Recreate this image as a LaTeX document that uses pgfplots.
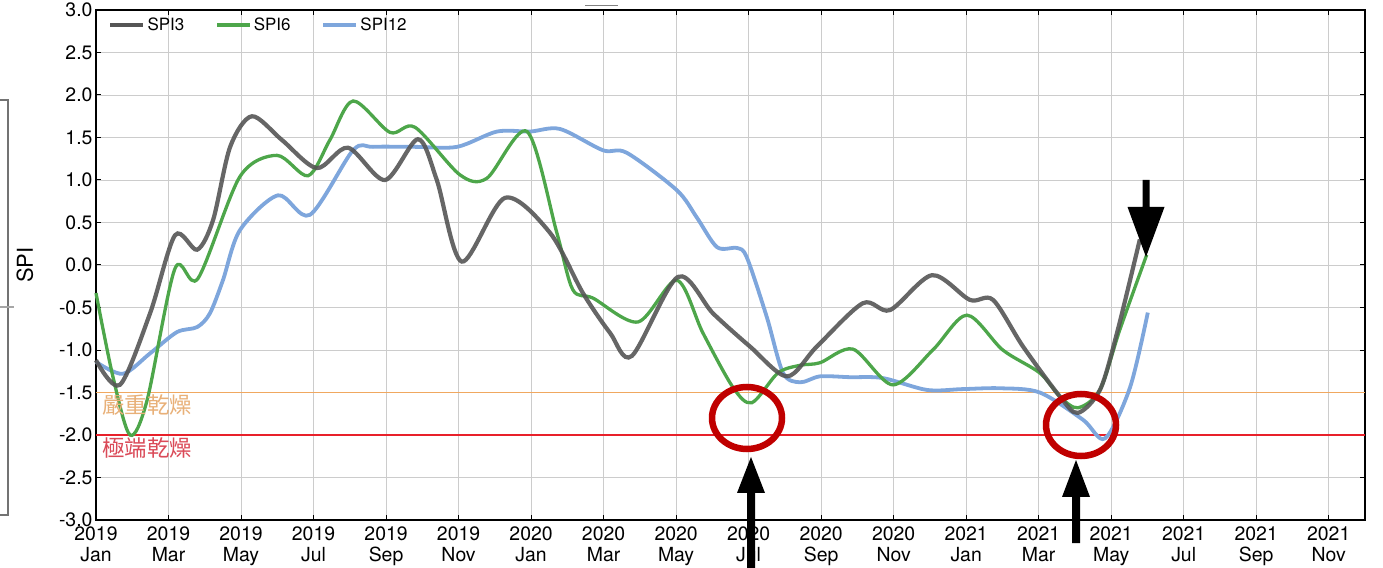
\documentclass[border=0pt]{standalone}
\usepackage{fontspec}
\setmainfont{TeX Gyre Heros}
\newfontfamily\cjk{Noto Sans CJK TC}
\usepackage{pgfplots}
\pgfplotsset{compat=1.18}
\definecolor{cthree}{HTML}{555555}
\definecolor{csix}{HTML}{4DA64A}
\definecolor{ctwelve}{HTML}{7EA6DC}
\definecolor{corange}{HTML}{F0A860}
\definecolor{cred}{HTML}{E8202A}
\definecolor{torange}{HTML}{E8B078}
\definecolor{tred}{HTML}{DA4A58}
\definecolor{circ}{HTML}{C00000}
\begin{document}
\begin{tikzpicture}
\path[use as bounding box] (-96bp,-48bp) rectangle (1287bp,520bp);
% artefacts of neighbouring figure
\draw[black!55, line width=1.5bp] (-96bp,420bp) -- (-88bp,420bp) -- (-88bp,5bp) -- (-96bp,5bp);
\draw[black!35, line width=1.2bp] (-96bp,213bp) -- (-82bp,213bp);
\draw[black!50, line width=0.8bp] (489bp,515bp) -- (522bp,515bp);
\begin{axis}[
  at={(0bp,0bp)}, anchor=south west,
  width=1269bp, height=510bp, scale only axis,
  xmin=0, xmax=35, ymin=-3, ymax=3,
  xtick={0,2,...,34},
  xticklabels={2019\\Jan,2019\\Mar,2019\\May,2019\\Jul,2019\\Sep,2019\\Nov,
               2020\\Jan,2020\\Mar,2020\\May,2020\\Jul,2020\\Sep,2020\\Nov,
               2021\\Jan,2021\\Mar,2021\\May,2021\\Jul,2021\\Sep,2021\\Nov},
  xticklabel style={align=center, font=\fontsize{19.5}{21.5}\selectfont, yshift=-3bp},
  ytick={-3,-2.5,-2,-1.5,-1,-0.5,0,0.5,1,1.5,2,2.5,3},
  yticklabel={\pgfmathprintnumber[fixed,fixed zerofill,precision=1,assume math mode=true]{\tick}},
  yticklabel style={font=\fontsize{19.5}{21.5}\selectfont},
  tick align=inside,
  major tick length=5bp,
  grid=major,
  grid style={color=black!20, line width=0.9bp},
  axis line style={line width=1.6bp},
  tick style={black, line width=1bp},
  ylabel={SPI},
  ylabel style={at={(axis description cs:-0.056,0.5)}, anchor=center, font=\fontsize{22}{26}\selectfont},
  legend style={at={(axis description cs:0.007,0.993)}, anchor=north west, draw=none, fill=none,
    font=\fontsize{17}{19}\selectfont, legend columns=3,
    /tikz/every even column/.append style={column sep=29bp}},
  legend image code/.code={\draw[#1] (0bp,0bp) -- (33bp,0bp);},
  clip=false,
]
\addlegendimage{cthree, line width=4.5bp}
\addlegendentry{SPI3}
\addlegendimage{csix, line width=3.5bp}
\addlegendentry{SPI6}
\addlegendimage{ctwelve, line width=4bp}
\addlegendentry{SPI12}

\addplot[corange, line width=1.1bp, forget plot] coordinates {(0,-1.5) (35,-1.5)};
\addplot[cred, line width=1.1bp, forget plot] coordinates {(0,-2) (35,-2)};

% SPI12
\addplot[ctwelve, line width=3.8bp, smooth, forget plot] coordinates {
(0,-1.14) (0.74,-1.28) (1.49,-1.04) (2.23,-0.79) (2.79,-0.73) (3.14,-0.57) (3.5,-0.18)
(3.97,0.41) (5.02,0.82) (5.9,0.59) (7.09,1.35) (7.64,1.39) (8.8,1.39) (9.96,1.39)
(11.06,1.57) (11.97,1.57) (12.8,1.6) (13.98,1.35) (14.64,1.32) (16.02,0.88) (16.57,0.56)
(17.13,0.21) (17.68,0.2) (17.95,0.09) (18.5,-0.61) (18.95,-1.27) (19.42,-1.38)
(19.97,-1.31) (20.8,-1.32) (21.7,-1.33) (22.92,-1.47) (23.9,-1.46) (24.93,-1.45)
(26.03,-1.5) (27.22,-1.82) (27.83,-2.04) (28.52,-1.44) (29.01,-0.56)
};
% SPI6
\addplot[csix, line width=3.3bp, smooth, forget plot] coordinates {
(0,-0.33) (0.47,-1.32) (0.94,-2.0) (1.41,-1.59) (2.18,-0.04) (2.81,-0.16) (3.97,1.04)
(4.99,1.29) (5.85,1.05) (6.45,1.47) (7.09,1.93) (8.11,1.56) (8.8,1.62) (10.04,1.06)
(10.78,1.02) (11.89,1.57) (12.71,0.38) (13.15,-0.29) (13.71,-0.39) (14.95,-0.67)
(16.02,-0.18) (16.74,-0.80) (17.57,-1.44) (18.09,-1.62) (18.81,-1.27) (19.42,-1.18)
(19.97,-1.15) (20.88,-0.99) (21.98,-1.41) (23.08,-1.0) (24.02,-0.59) (25.01,-1.0)
(26.03,-1.27) (26.59,-1.55) (27.08,-1.68) (27.69,-1.47) (28.24,-0.76) (28.98,0.12)
};
% SPI3
\addplot[cthree, line width=4.2bp, smooth, opacity=0.9, forget plot] coordinates {
(0,-1.12) (0.66,-1.41) (1.49,-0.57) (2.18,0.35) (2.79,0.18) (3.23,0.53) (3.7,1.39)
(4.3,1.75) (5.13,1.47) (6.09,1.14) (6.95,1.38) (7.97,1.0) (8.88,1.48) (9.4,1.0)
(10.09,0.04) (11.28,0.79) (12.52,0.38) (13.43,-0.33) (14.18,-0.8) (14.78,-1.07)
(16.05,-0.14) (17.02,-0.57) (18.04,-0.96) (19.06,-1.31) (19.88,-0.96) (21.15,-0.45)
(21.9,-0.53) (23.06,-0.12) (24.1,-0.41) (24.74,-0.41) (25.57,-0.96) (26.59,-1.55)
(27.08,-1.74) (27.69,-1.47) (28.16,-0.8) (28.79,0.3)
};
\end{axis}
% threshold labels
\node[anchor=west, inner sep=0pt, text=torange, font=\cjk\fontsize{22.5}{25}\selectfont] at (6bp,115bp) {嚴重乾燥};
\node[anchor=west, inner sep=0pt, text=tred, font=\cjk\fontsize{22.5}{25}\selectfont] at (6bp,72bp) {極端乾燥};
% circles
\draw[circ, line width=6.5bp] (651bp,102bp) ellipse [x radius=35bp, y radius=31bp];
\draw[circ, line width=6.5bp] (985bp,95bp) ellipse [x radius=35bp, y radius=31bp];
% arrows
\fill[black] (655bp,63bp) -- (669bp,27bp) -- (659bp,27bp) -- (659bp,-48bp) -- (651bp,-48bp) -- (651bp,27bp) -- (641bp,27bp) -- cycle;
\fill[black] (980bp,60bp) -- (994bp,23bp) -- (984bp,23bp) -- (984bp,-23bp) -- (976bp,-23bp) -- (976bp,23bp) -- (966bp,23bp) -- cycle;
\fill[black] (1050bp,263bp) -- (1068.5bp,313bp) -- (1053.5bp,313bp) -- (1053.5bp,340bp) -- (1046.5bp,340bp) -- (1046.5bp,313bp) -- (1031.5bp,313bp) -- cycle;
\end{tikzpicture}
\end{document}
